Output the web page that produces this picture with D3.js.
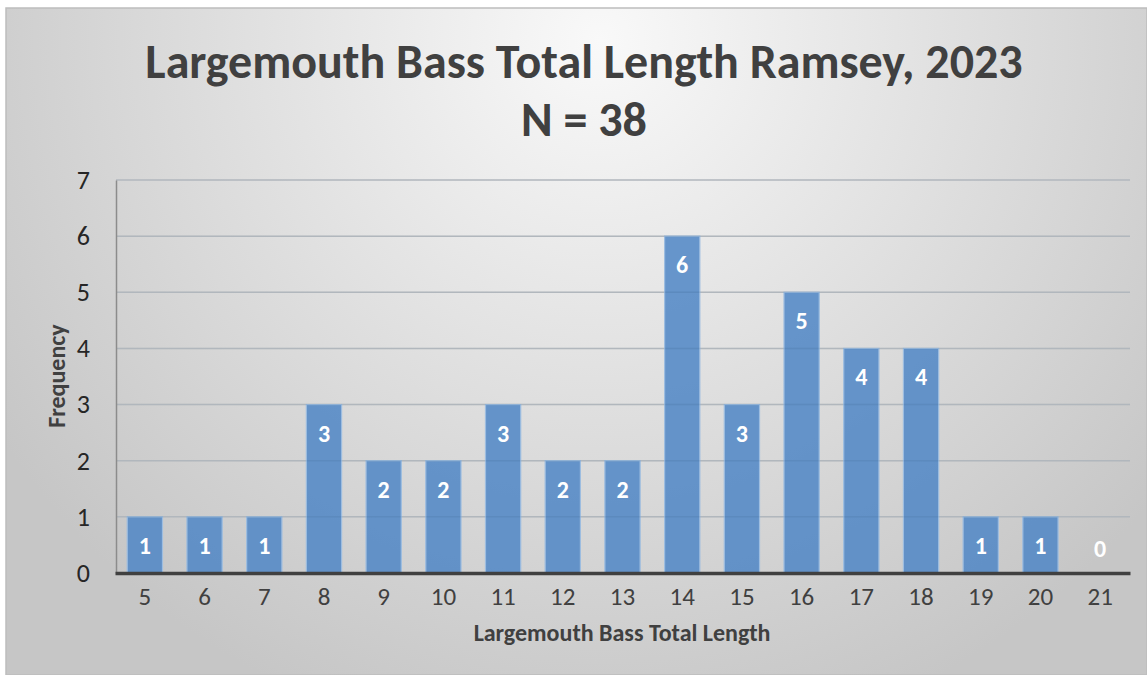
<!DOCTYPE html>
<html>
<head>
<meta charset="utf-8">
<script src="https://cdn.jsdelivr.net/npm/d3@7"></script>
<style>
  body { margin: 0; background: #fff; }
  svg { display: block; font-family: Carlito, Calibri, "Open Sans", "Liberation Sans", sans-serif; }
</style>
</head>
<body>
<svg id="chart" width="1147" height="675"></svg>
<script>
// length classes (inches) and fish counts
var lengths = [5, 6, 7, 8, 9, 10, 11, 12, 13, 14, 15, 16, 17, 18, 19, 20, 21];
var counts  = [1, 1, 1, 3, 2, 2, 3, 2, 2, 6, 3, 5, 4, 4, 1, 1, 0];
var yTicks  = [0, 1, 2, 3, 4, 5, 6, 7];

var svg = d3.select("#chart");
var width = +svg.attr("width"), height = +svg.attr("height");
var font = "Carlito, Calibri, 'Open Sans', sans-serif";

// background gradient, light at top middle and grey to the sides
var defs = svg.append("defs");
var grad = defs.append("radialGradient")
    .attr("id", "bg")
    .attr("gradientUnits", "userSpaceOnUse")
    .attr("cx", 600).attr("cy", 40).attr("r", 720);
grad.append("stop").attr("offset", "0%").attr("stop-color", "#f9f9f9");
grad.append("stop").attr("offset", "100%").attr("stop-color", "#c6c6c6");

svg.append("rect")
    .attr("x", 6).attr("y", 8)
    .attr("width", width - 6).attr("height", height - 8)
    .attr("fill", "url(#bg)")
    .attr("stroke", "#bdbdbd").attr("stroke-width", 1.5);

var x = d3.scaleBand()
    .domain(lengths)
    .range([115, 1130])
    .paddingInner(0.41)
    .paddingOuter(0.205);

var y = d3.scaleLinear()
    .domain([0, 7])
    .range([573, 180]);

// gridlines
svg.append("g")
  .selectAll("line")
  .data(yTicks.slice(1))
  .enter().append("line")
    .attr("x1", 116).attr("x2", 1130)
    .attr("y1", function(d) { return y(d); })
    .attr("y2", function(d) { return y(d); })
    .attr("stroke", "#c4c4c4")
    .attr("stroke-width", 1.5);

// bars
svg.append("g")
  .selectAll("rect")
  .data(counts)
  .enter().append("rect")
    .attr("x", function(d, i) { return x(lengths[i]); })
    .attr("y", function(d) { return y(d); })
    .attr("width", x.bandwidth())
    .attr("height", function(d) { return y(0) - y(d); })
    .attr("fill", "#4f86c6")
    .attr("fill-opacity", 0.85)
    .attr("stroke", "#9dbde0")
    .attr("stroke-width", 1.2);

// gridlines show faintly through bars
svg.append("g")
  .selectAll("line")
  .data(yTicks.slice(1))
  .enter().append("line")
    .attr("x1", 116).attr("x2", 1130)
    .attr("y1", function(d) { return y(d); })
    .attr("y2", function(d) { return y(d); })
    .attr("stroke", "#4a6f9a")
    .attr("stroke-opacity", 0.15)
    .attr("stroke-width", 1.5);

// y axis
var yAxis = svg.append("g")
    .attr("transform", "translate(116,0)")
    .call(d3.axisLeft(y).tickValues(yTicks).tickFormat(d3.format("d")).tickSize(0).tickPadding(26));
yAxis.select(".domain").attr("stroke", "#8c8c8c").attr("stroke-width", 1.5);
yAxis.selectAll("text")
    .attr("font-size", 26).attr("fill", "#262626")
    .attr("font-family", font);

// x axis
var xAxis = svg.append("g")
    .attr("transform", "translate(0,573)")
    .call(d3.axisBottom(x).tickSize(0).tickPadding(14));
xAxis.select(".domain").attr("stroke", "#404040").attr("stroke-width", 3.5);
xAxis.selectAll("text")
    .attr("font-size", 25).attr("fill", "#404040")
    .attr("font-family", font);

// data labels
svg.append("g")
  .selectAll("text")
  .data(counts)
  .enter().append("text")
    .attr("x", function(d, i) { return x(lengths[i]) + x.bandwidth() / 2; })
    .attr("y", function(d) { return d > 0 ? y(d) + 37 : y(0) - 16; })
    .attr("text-anchor", "middle")
    .attr("fill", "#ffffff")
    .attr("font-size", 24)
    .attr("font-weight", "bold")
    .text(function(d) { return d; });

// title
var title = svg.append("text")
    .attr("text-anchor", "middle")
    .attr("fill", "#404040")
    .attr("font-size", 48)
    .attr("font-weight", "bold");
title.append("tspan").attr("x", 584).attr("y", 78).text("Largemouth Bass Total Length Ramsey, 2023");
title.append("tspan").attr("x", 584).attr("y", 136).text("N = 38");

// axis titles
svg.append("text")
    .attr("transform", "translate(65,376) rotate(-90)")
    .attr("text-anchor", "middle")
    .attr("fill", "#404040")
    .attr("font-size", 24)
    .attr("font-weight", "bold")
    .text("Frequency");

svg.append("text")
    .attr("x", 622).attr("y", 641)
    .attr("text-anchor", "middle")
    .attr("fill", "#404040")
    .attr("font-size", 24)
    .attr("font-weight", "bold")
    .text("Largemouth Bass Total Length");
</script>
</body>
</html>
